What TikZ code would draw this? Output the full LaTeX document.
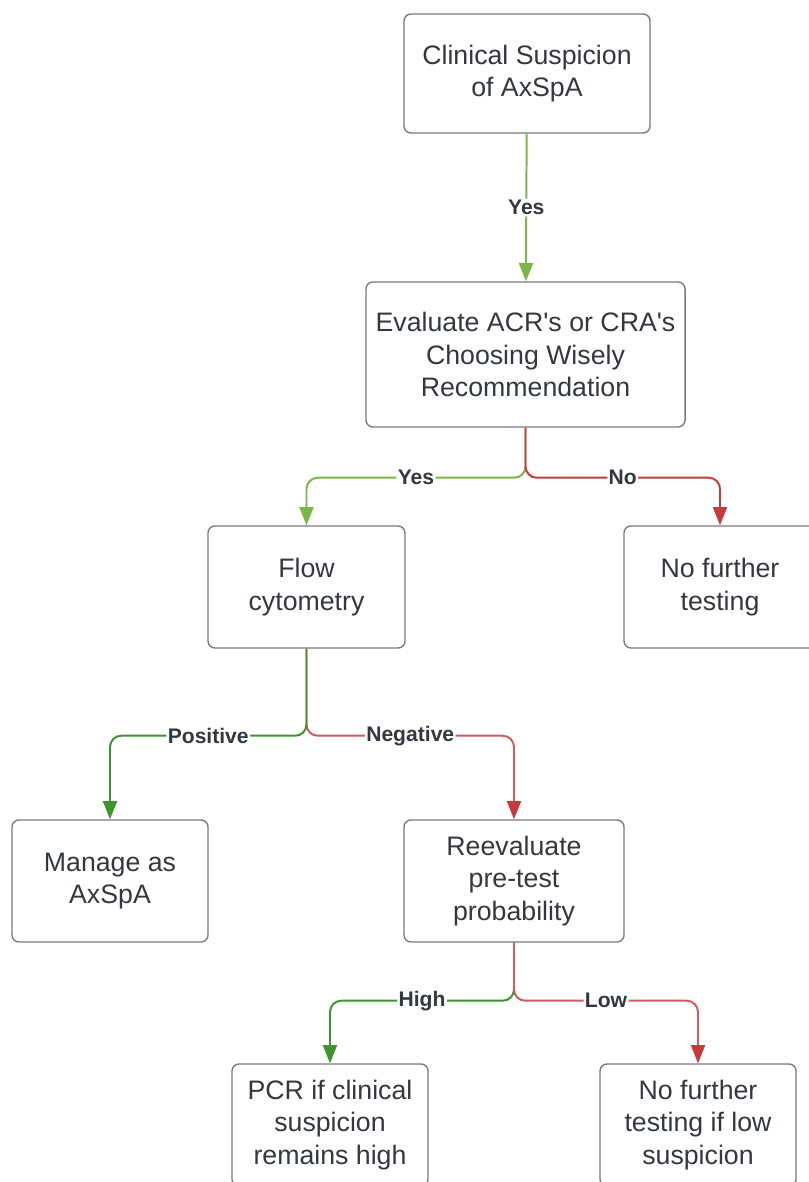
\documentclass[tikz,border=0pt]{standalone}
\usepackage{fontspec}
\setmainfont{Liberation Sans}
\usetikzlibrary{arrows.meta}
\definecolor{lightgreen}{HTML}{7AB648}
\definecolor{darkgreen}{HTML}{3B962B}
\definecolor{darkred}{HTML}{C8393B}
\definecolor{softred}{HTML}{D05A5E}
\definecolor{boxline}{HTML}{7A7A7A}
\definecolor{textgray}{HTML}{333840}
\begin{document}
\begin{tikzpicture}[x=0.025cm,y=-0.025cm,
	main_node/.style={draw=boxline,line width=1pt,rounded corners=5pt,align=center,text=textgray,font=\fontsize{19}{23}\selectfont,minimum width=4.9cm,minimum height=3.05cm,inner sep=2pt},
	edge_label/.style={fill=white,inner sep=1pt,text=textgray,font=\fontsize{15}{17}\bfseries\selectfont},
	green_edge/.style={draw=#1,line width=1.4pt,rounded corners=8pt,-{Triangle[length=13pt,width=10pt,color=#1]}},
	red_edge/.style={draw=#1,line width=1.4pt,rounded corners=8pt,-{Triangle[length=13pt,width=10pt,color=darkred]}}]
		\useasboundingbox (0,0) rectangle (808,1182);
		
		\node[main_node,minimum width=6.15cm,minimum height=2.975cm] (suspicion) at (527,73.5) {Clinical Suspicion\\of AxSpA};
		\node[main_node,minimum width=7.975cm,minimum height=3.625cm] (evaluate) at (525.5,354.5) {Evaluate ACR\textquotesingle s or CRA\textquotesingle s\\Choosing Wisely\\Recommendation};
		\node[main_node,minimum width=4.925cm] (flow) at (306.5,587) {Flow\\cytometry};
		\node[main_node,minimum width=4.8cm] (nofurther) at (720,587) {No further\\testing};
		\node[main_node] (manage) at (110,881) {Manage as\\AxSpA};
		\node[main_node,minimum width=5.5cm] (reevaluate) at (514,881) {Reevaluate\\pre-test\\probability};
		\node[main_node] (pcr) at (330,1125) {PCR if clinical\\suspicion\\remains high};
		\node[main_node] (nofurtherlow) at (698,1125) {No further\\testing if low\\suspicion};
		
		\draw[green_edge=lightgreen] (suspicion) -- node[edge_label] {Yes} (evaluate);
		\draw[green_edge=lightgreen] (evaluate.south) -- ++(0,50) -| node[edge_label,pos=0.25] {Yes} (flow.north);
		\draw[red_edge=darkred] (evaluate.south) -- ++(0,50) -| node[edge_label,pos=0.25] {No} (nofurther.north);
		\draw[red_edge=softred] (flow.south) -- ++(0,87) -| node[edge_label,pos=0.25] {Negative} (reevaluate.north);
		\draw[green_edge=darkgreen] (flow.south) -- ++(0,87) -| node[edge_label,pos=0.25] {Positive} (manage.north);
		\draw[green_edge=darkgreen] (reevaluate.south) -- ++(0,58) -| node[edge_label,pos=0.25] {High} (pcr.north);
		\draw[red_edge=softred] (reevaluate.south) -- ++(0,58) -| node[edge_label,pos=0.25] {Low} (nofurtherlow.north);
		\end{tikzpicture}
\end{document}
